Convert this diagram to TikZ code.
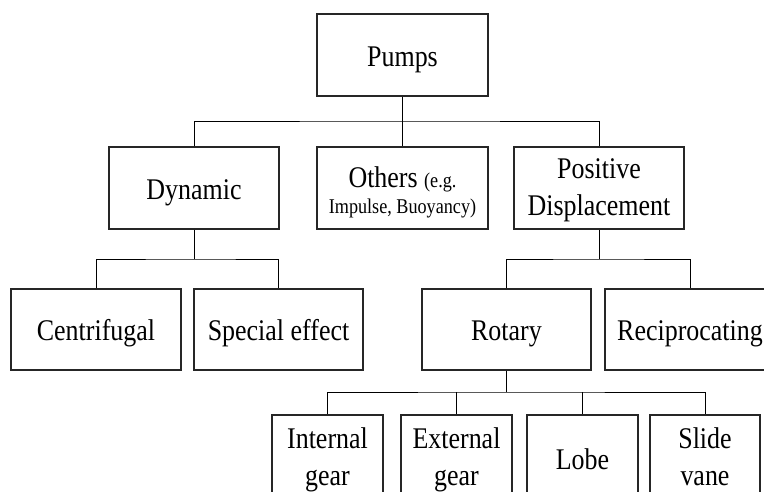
\documentclass[tikz,border=0pt]{standalone}
\usepackage{fontspec}
\setmainfont[FakeStretch=0.865]{Liberation Serif}
\newcommand{\smallfs}{\fontsize{21}{26}\selectfont}
\begin{document}
\begin{tikzpicture}[x=1pt,y=-1pt,
  box/.style={draw=black!85, line width=1.1pt, inner sep=0pt, align=center,
    font=\fontsize{30}{37.5}\selectfont, text height=22pt, text depth=0pt},
  twoline/.style={text height=55pt, text depth=0pt},
  link/.style={draw=black, line width=1pt}]
\useasboundingbox (0,0) rectangle (764,491);
\clip (0,0) rectangle (764,491);
% level 0
\node[box, minimum width=171pt, minimum height=82pt] (pumps) at (402.5,55) {Pumps};
% level 1
\node[box, minimum width=170pt, minimum height=82pt] (dyn) at (194,188) {Dynamic};
\node[box, minimum width=171pt, minimum height=82pt, font=\fontsize{30}{26}\selectfont,
  text height=50pt, text depth=0pt] (oth) at (402.5,188)
  {Others {\smallfs (e.g.}\\{\smallfs Impulse, Buoyancy)}};
\node[box, twoline, minimum width=170pt, minimum height=82pt] (pd) at (599,188) {Positive\\Displacement};
% level 2
\node[box, minimum width=170pt, minimum height=81pt] (cen) at (96,329.5) {Centrifugal};
\node[box, minimum width=169pt, minimum height=81pt] (spe) at (278.5,329.5) {Special effect};
\node[box, minimum width=169pt, minimum height=81pt] (rot) at (506.5,329.5) {Rotary};
\node[box, minimum width=170pt, minimum height=81pt] (rec) at (690,329.5) {Reciprocating};
% level 3
\node[box, twoline, minimum width=111pt, minimum height=86pt] (ig) at (327.5,458) {Internal\\gear};
\node[box, twoline, minimum width=111pt, minimum height=86pt] (eg) at (456.5,458) {External\\gear};
\node[box, minimum width=111pt, minimum height=86pt] (lobe) at (582.5,458) {Lobe};
\node[box, twoline, minimum width=110pt, minimum height=86pt] (sv) at (705,458) {Slide\\vane};
% junctions
\coordinate (j1) at (402.5,121);
\coordinate (j2) at (194,259);
\coordinate (j3) at (599,259);
\coordinate (j4) at (506.5,392);
% connectors
\draw[link] (pumps.south) -- (j1);
\draw[link] (j1) -- (oth.north);
\draw[link] (dyn.north) |- (j1) -| (pd.north);
\draw[link] (dyn.south) -- (j2);
\draw[link] (cen.north) |- (j2) -| (spe.north);
\draw[link] (pd.south) -- (j3);
\draw[link] (rot.north) |- (j3) -| (rec.north);
\draw[link] (rot.south) -- (j4);
\draw[link] (ig.north) |- (j4) -| (sv.north);
\draw[link] (eg.north) -- (eg.north |- j4);
\draw[link] (lobe.north) -- (lobe.north |- j4);
\end{tikzpicture}
\end{document}
